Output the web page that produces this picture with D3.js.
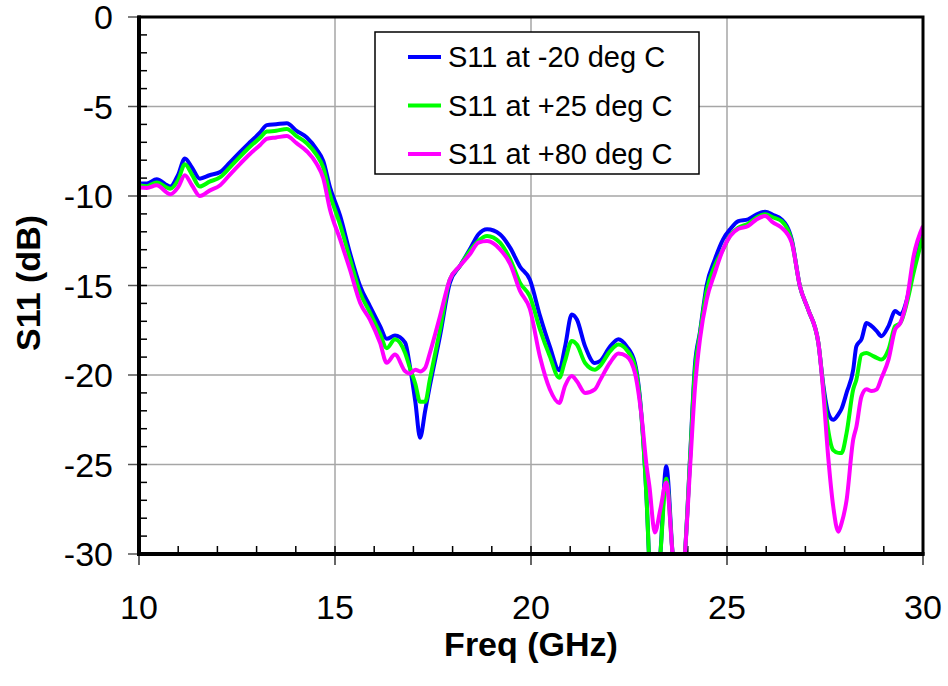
<!DOCTYPE html>
<html>
<head>
<script src="https://d3js.org/d3.v7.min.js"></script>
<style>
body { margin: 0; background-color: white; }
text { font-family: "Liberation Sans", Arial, sans-serif; fill: black; }
text.tick { font-size: 34px; }
text.title { font-size: 34px; font-weight: bold; }
text.legend { font-size: 29px; }
</style>
</head>
<body>
<script>

// frequency points (GHz)
var freq = [10, 10.2, 10.45, 10.8, 11.0, 11.17, 11.35, 11.55, 11.8, 12.07, 12.32, 12.58, 12.83, 13.09, 13.26, 13.5, 13.77, 14.02, 14.28, 14.53,
	14.7, 14.87, 15.13, 15.38, 15.64, 15.89, 16.15, 16.32, 16.53, 16.79, 16.91, 17.05, 17.17, 17.3, 17.42, 17.68, 17.93, 18.19, 18.44, 18.66,
	18.88, 19.21, 19.47, 19.72, 19.97, 20.23, 20.48, 20.72, 20.87, 21.04, 21.17, 21.38, 21.63, 21.76, 22.02, 22.23, 22.44, 22.65, 22.82, 22.95,
	23.02, 23.16, 23.3, 23.45, 23.62, 23.78, 23.93, 24.06, 24.18, 24.31, 24.48, 24.69, 24.9, 25.08, 25.29, 25.54, 25.76, 25.97, 26.18, 26.39,
	26.65, 26.86, 27.07, 27.33, 27.45, 27.58, 27.71, 27.84, 27.92, 28.05, 28.22, 28.3, 28.43, 28.56, 28.69, 28.82, 28.94, 29.12, 29.29, 29.42,
	29.59, 29.76, 30];

// S11 (dB) at -20 deg C
var s11Cold = [-9.3, -9.3, -9.07, -9.47, -8.8, -7.9, -8.4, -9.03, -8.84, -8.66, -8.13, -7.54, -7.0, -6.45, -6.04, -5.99, -5.93, -6.36, -6.73, -7.39,
	-8.04, -9.5, -11.1, -13.17, -15.03, -16.15, -17.27, -17.98, -17.8, -18.2, -19.5, -21.5, -23.5, -22.0, -20.6, -17.8, -14.85, -13.9, -12.98, -12.14,
	-11.86, -12.14, -12.9, -13.95, -14.66, -16.7, -18.4, -19.74, -18.4, -16.62, -16.9, -18.4, -19.33, -19.23, -18.4, -18.0, -18.4, -19.33, -22.3, -27,
	-30.5, -33, -30, -25.1, -30.2, -33, -29.9, -24.5, -19.5, -17.6, -15.0, -13.54, -12.42, -11.86, -11.4, -11.3, -11.02, -10.88, -11.06, -11.3,
	-12.42, -15.04, -16.34, -18.2, -20.45, -22.1, -22.5, -22.2, -21.9, -21.0, -19.7, -18.4, -18.0, -17.1, -17.27, -17.55, -17.83, -17.27, -16.43, -16.6,
	-15.78, -13.9, -12.1];

// S11 (dB) at +25 deg C
var s11Room = [-9.4, -9.45, -9.25, -9.6, -9.1, -8.23, -8.8, -9.47, -9.2, -8.95, -8.4, -7.8, -7.25, -6.75, -6.4, -6.36, -6.25, -6.65, -7.05, -7.7,
	-8.4, -9.9, -11.6, -13.5, -15.4, -16.5, -17.7, -18.5, -18.0, -18.77, -19.6, -20.5, -21.5, -21.5, -20.25, -17.46, -14.66, -13.9, -13.07, -12.5,
	-12.23, -12.6, -13.54, -14.85, -15.6, -17.46, -18.95, -20.15, -19.2, -18.1, -18.3, -19.33, -19.7, -19.5, -18.67, -18.3, -18.6, -19.5, -22.4, -27,
	-30.5, -33, -30, -25.8, -30.2, -33, -29.9, -24.6, -19.8, -17.7, -15.3, -13.9, -12.98, -12.2, -11.77, -11.55, -11.2, -11.02, -11.2, -11.4,
	-12.5, -15.04, -16.34, -18.2, -20.6, -23.05, -24.2, -24.35, -24.36, -23.25, -20.8, -20.26, -18.86, -18.77, -18.9, -19.04, -19.14, -18.58, -17.27, -17.1,
	-15.96, -14.29, -12.24];

// S11 (dB) at +80 deg C
var s11Hot = [-9.53, -9.55, -9.4, -9.9, -9.5, -8.84, -9.4, -10.0, -9.7, -9.4, -8.8, -8.2, -7.65, -7.15, -6.8, -6.73, -6.65, -7.05, -7.5, -8.2,
	-9.0, -10.74, -12.42, -14.1, -15.96, -16.9, -18.2, -19.32, -18.86, -19.79, -19.92, -19.7, -19.8, -19.6, -18.77, -16.7, -14.66, -13.9, -13.26, -12.6,
	-12.52, -12.98, -13.8, -15.3, -16.3, -19.0, -20.8, -21.56, -20.6, -20.06, -20.35, -21.0, -20.8, -20.3, -19.3, -18.8, -18.95, -19.88, -22.3, -25.1,
	-26.2, -28.8, -27.5, -26.0, -30.2, -33, -29.9, -25.1, -20.8, -18.0, -15.8, -14.29, -12.98, -12.24, -11.83, -11.68, -11.3, -11.12, -11.49, -11.77,
	-12.6, -15.04, -16.34, -18.2, -20.8, -24.54, -27.35, -28.75, -28.3, -27.0, -23.6, -22.9, -21.2, -20.8, -20.9, -20.8, -20.17, -19.14, -17.46, -17.1,
	-15.78, -13.36, -11.68];

var seriesNames = ["S11 at -20 deg C", "S11 at +25 deg C", "S11 at +80 deg C"];
var seriesColors = ["#0000ff", "#00ff00", "#ff00ff"];
var xTicks = [10, 15, 20, 25, 30];
var yTicks = [0, -5, -10, -15, -20, -25, -30];

var w = 948;
var h = 686;
var pLeft = 139, pRight = 923, pTop = 17, pBottom = 554;

var svg = d3.select("body").append("svg")
	.attr("width", w)
	.attr("height", h);

var x = d3.scaleLinear().domain([10, 30]).range([pLeft, pRight]);
var y = d3.scaleLinear().domain([-30, 0]).range([pBottom, pTop]);

// grid
svg.selectAll("line.gx").data(xTicks.slice(1, -1)).enter().append("line")
	.attr("x1", x).attr("x2", x).attr("y1", pTop).attr("y2", pBottom)
	.style("stroke", "#a6a6a6").style("stroke-width", 1.5);
svg.selectAll("line.gy").data(yTicks.slice(1, -1)).enter().append("line")
	.attr("x1", pLeft).attr("x2", pRight).attr("y1", y).attr("y2", y)
	.style("stroke", "#a6a6a6").style("stroke-width", 1.5);

// minor ticks (inside)
svg.selectAll("line.mx").data(d3.range(11, 30)).enter().append("line")
	.attr("x1", x).attr("x2", x).attr("y1", pBottom).attr("y2", pBottom - 8)
	.style("stroke", "black").style("stroke-width", 1.5);
svg.selectAll("line.my").data(d3.range(-29, 0)).enter().append("line")
	.attr("x1", pLeft).attr("x2", pLeft + 8).attr("y1", y).attr("y2", y)
	.style("stroke", "black").style("stroke-width", 1.5);

// major ticks (outside)
svg.selectAll("line.tx").data(xTicks).enter().append("line")
	.attr("x1", x).attr("x2", x).attr("y1", pBottom).attr("y2", pBottom + 11)
	.style("stroke", "#333").style("stroke-width", 1.5);
svg.selectAll("line.ty").data(yTicks).enter().append("line")
	.attr("x1", pLeft - 11).attr("x2", pLeft).attr("y1", y).attr("y2", y)
	.style("stroke", "#555").style("stroke-width", 1.5);

// curves
svg.append("clipPath").attr("id", "plot")
	.append("rect").attr("x", pLeft).attr("y", pTop).attr("width", pRight - pLeft).attr("height", pBottom - pTop);

var line = d3.line()
	.x(function(d) { return x(d[0]); })
	.y(function(d) { return y(d[1]); })
	.curve(d3.curveMonotoneX);

[s11Cold, s11Room, s11Hot].forEach(function(vals, i) {
	svg.append("path")
		.attr("d", line(freq.map(function(f, j) { return [f, vals[j]]; })))
		.attr("clip-path", "url(#plot)")
		.style("fill", "none")
		.style("stroke", seriesColors[i])
		.style("stroke-width", 4)
		.style("stroke-linejoin", "round");
});

// frame
svg.append("rect")
	.attr("x", pLeft).attr("y", pTop).attr("width", pRight - pLeft).attr("height", pBottom - pTop)
	.style("fill", "none").style("stroke", "black").style("stroke-width", 3);
svg.append("line").attr("x1", pLeft).attr("x2", pLeft).attr("y1", pTop - 1.5).attr("y2", pBottom + 2)
	.style("stroke", "black").style("stroke-width", 4);
svg.append("line").attr("x1", pLeft - 2).attr("x2", pRight + 1.5).attr("y1", pBottom).attr("y2", pBottom)
	.style("stroke", "black").style("stroke-width", 4);

// tick labels
svg.selectAll("text.tx").data(xTicks).enter().append("text").attr("class", "tick")
	.attr("x", x).attr("y", 619)
	.style("text-anchor", "middle")
	.text(function(d) { return d; });
svg.selectAll("text.ty").data(yTicks).enter().append("text").attr("class", "tick")
	.attr("x", 113).attr("y", function(d) { return y(d) + 12; })
	.style("text-anchor", "end")
	.text(function(d) { return d; });

// axis titles
svg.append("text").attr("class", "title")
	.attr("x", 531).attr("y", 656)
	.style("text-anchor", "middle")
	.text("Freq (GHz)");
svg.append("text").attr("class", "title")
	.attr("transform", "translate(40,283) rotate(-90)")
	.style("text-anchor", "middle")
	.text("S11 (dB)");

// legend
var legend = svg.append("g");
legend.append("rect")
	.attr("x", 375).attr("y", 32).attr("width", 324).attr("height", 142)
	.style("fill", "white").style("stroke", "black").style("stroke-width", 1.5);
seriesNames.forEach(function(name, i) {
	var ly = 57 + i * 48.5;
	legend.append("line")
		.attr("x1", 408).attr("x2", 441).attr("y1", ly).attr("y2", ly)
		.style("stroke", seriesColors[i]).style("stroke-width", 4);
	legend.append("text").attr("class", "legend")
		.attr("x", 448).attr("y", ly + 10)
		.text(name);
});

</script>
</body>
</html>
